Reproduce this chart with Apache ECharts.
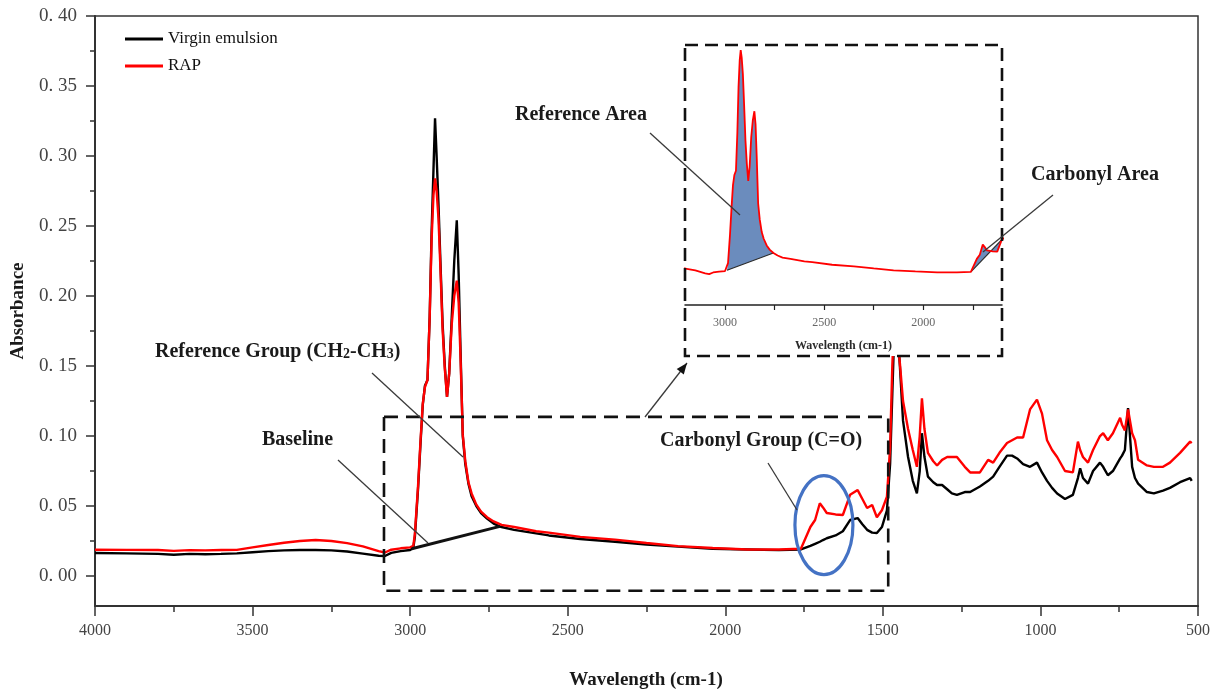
<!DOCTYPE html>
<html>
<head>
<meta charset="utf-8">
<title>FTIR spectra – Virgin emulsion vs RAP</title>
<script src="https://cdn.jsdelivr.net/npm/echarts@6/dist/echarts.min.js"></script>
<style>
  html, body { margin: 0; padding: 0; background: #ffffff; }
  #chart { width: 1224px; height: 694px; }
</style>
</head>
<body>
<div id="chart"></div>
<script>
// Wavenumber grid (cm-1) shared by both spectra
const wavenumber = [
  4000, 3900, 3800, 3750, 3700, 3650, 3600, 3550, 3500, 3450, 3400, 3350, 3300, 3250, 3200, 3150, 3100, 3080, 3060, 3030, 3000,
  2990, 2985, 2975, 2967, 2960, 2953, 2945, 2938, 2932, 2926, 2921, 2916, 2910, 2904, 2897, 2890, 2883, 2876, 2868, 2860, 2852,
  2846, 2840, 2833, 2825, 2815, 2805, 2790, 2775, 2756, 2735, 2710, 2670, 2600, 2560, 2460, 2350, 2250, 2150, 2040, 1930, 1830,
  1760, 1730, 1715, 1700, 1690, 1678, 1650, 1627, 1604, 1580, 1565, 1550, 1534, 1519, 1503, 1487, 1477, 1470, 1463, 1456, 1446,
  1436, 1420, 1405, 1392, 1383, 1376, 1368, 1357, 1340, 1328, 1312, 1296, 1281, 1265, 1240, 1223, 1192, 1166, 1150, 1130, 1106,
  1090, 1074, 1055, 1033, 1011, 995, 979, 963, 947, 922, 897, 881, 874, 865, 849, 833, 811, 801, 786, 770, 747, 741, 732, 722,
  709, 700, 690, 662, 640, 611, 589, 557, 525, 520
];

// Absorbance of the virgin emulsion
const virginEmulsion = [
  0.0165, 0.0162, 0.0158, 0.0152, 0.0158, 0.0156, 0.0158, 0.0162, 0.0170, 0.0178, 0.0183, 0.0186, 0.0186, 0.0183, 0.0175, 0.0160, 0.0145, 0.0143, 0.0165, 0.0178, 0.0186,
  0.0200, 0.0280, 0.0620, 0.0950, 0.1220, 0.1360, 0.1400, 0.1850, 0.2450, 0.2900, 0.3270, 0.3000, 0.2650, 0.2250, 0.1800, 0.1500, 0.1280, 0.1450, 0.1850, 0.2250, 0.2540,
  0.2150, 0.1600, 0.1000, 0.0800, 0.0660, 0.0570, 0.0500, 0.0450, 0.0410, 0.0375, 0.0350, 0.0330, 0.0305, 0.0290, 0.0265, 0.0245, 0.0225, 0.0210, 0.0195, 0.0190, 0.0185,
  0.0190, 0.0215, 0.0230, 0.0245, 0.0257, 0.0270, 0.0290, 0.0320, 0.0400, 0.0414, 0.0370, 0.0330, 0.0310, 0.0307, 0.0350, 0.0470, 0.0800, 0.1300, 0.1800, 0.1850, 0.1500,
  0.1110, 0.0850, 0.0680, 0.0590, 0.0750, 0.1020, 0.0850, 0.0710, 0.0670, 0.0650, 0.0650, 0.0620, 0.0590, 0.0580, 0.0600, 0.0600, 0.0640, 0.0680, 0.0710, 0.0780, 0.0860,
  0.0860, 0.0840, 0.0800, 0.0780, 0.0810, 0.0740, 0.0680, 0.0630, 0.0590, 0.0550, 0.0580, 0.0700, 0.0770, 0.0700, 0.0660, 0.0750, 0.0810, 0.0780, 0.0720, 0.0750, 0.0840, 0.0860, 0.0900, 0.1200,
  0.0780, 0.0700, 0.0660, 0.0600, 0.0590, 0.0610, 0.0630, 0.0670, 0.0700, 0.0680
];

// Absorbance of the RAP binder
const rap = [
  0.0188, 0.0187, 0.0186, 0.0180, 0.0185, 0.0183, 0.0186, 0.0187, 0.0205, 0.0222, 0.0238, 0.0250, 0.0257, 0.0250, 0.0235, 0.0212, 0.0178, 0.0168, 0.0188, 0.0198, 0.0205,
  0.0215, 0.0300, 0.0640, 0.0970, 0.1230, 0.1350, 0.1400, 0.1850, 0.2400, 0.2720, 0.2840, 0.2750, 0.2550, 0.2200, 0.1760, 0.1480, 0.1280, 0.1450, 0.1800, 0.2000, 0.2110,
  0.1950, 0.1550, 0.1010, 0.0820, 0.0670, 0.0590, 0.0510, 0.0460, 0.0420, 0.0390, 0.0365, 0.0350, 0.0320, 0.0310, 0.0280, 0.0260, 0.0236, 0.0214, 0.0200, 0.0190, 0.0190,
  0.0195, 0.0350, 0.0400, 0.0520, 0.0490, 0.0450, 0.0440, 0.0436, 0.0580, 0.0614, 0.0550, 0.0486, 0.0507, 0.0420, 0.0470, 0.0567, 0.0920, 0.1500, 0.1900, 0.1750, 0.1520,
  0.1250, 0.1050, 0.0900, 0.0780, 0.1000, 0.1270, 0.1050, 0.0880, 0.0820, 0.0790, 0.0830, 0.0850, 0.0850, 0.0850, 0.0780, 0.0740, 0.0740, 0.0830, 0.0810, 0.0880, 0.0950,
  0.0970, 0.0990, 0.0990, 0.1190, 0.1260, 0.1160, 0.0970, 0.0900, 0.0850, 0.0750, 0.0740, 0.0960, 0.0900, 0.0850, 0.0810, 0.0900, 0.1000, 0.1020, 0.0970, 0.1020, 0.1130, 0.1080, 0.1040, 0.1190,
  0.1020, 0.0970, 0.0830, 0.0790, 0.0780, 0.0780, 0.0810, 0.0880, 0.0960, 0.0950
];

// Tangent baseline under the CH2/CH3 band [wavenumber, absorbance]
const baselineChord = [[2995, 0.0195], [2715, 0.0355]];

// Tick values
const yTickValues = [0, 0.05, 0.10, 0.15, 0.20, 0.25, 0.30, 0.35, 0.40];
const yMinorTickValues = [0.025, 0.075, 0.125, 0.175, 0.225, 0.275, 0.325, 0.375];
const insetTickLabels = [3000, 2500, 2000];
const insetTickValues = [3000, 2750, 2500, 2250, 2000, 1750];

// Integration windows shown in the inset [from, to] (cm-1)
const referenceWindow = [2990, 2756];
const carbonylWindow = [1760, 1604];

const SERIF = '"Liberation Serif", "DejaVu Serif", serif';

const pairs = (values) => wavenumber.map((w, i) => [w, values[i]]);
const plainNumber = (v) => String(Math.round(v));

// Filled area between the RAP curve and the chord joining the window ends
function windowArea(win) {
  return function (params, api) {
    const pts = [];
    for (let i = 0; i < wavenumber.length; i++) {
      if (wavenumber[i] <= win[0] && wavenumber[i] >= win[1]) {
        pts.push(api.coord([wavenumber[i], rap[i]]));
      }
    }
    const first = pts[0], last = pts[pts.length - 1];
    return {
      type: 'group',
      children: [
        { type: 'polygon', shape: { points: pts }, style: { fill: '#6b8cbd', stroke: null } },
        { type: 'line', shape: { x1: first[0], y1: first[1], x2: last[0], y2: last[1] },
          style: { stroke: '#2b2b2b', lineWidth: 1.2 } }
      ]
    };
  };
}

const chart = echarts.init(document.getElementById('chart'), null, { renderer: 'canvas' });

const option = {
  animation: false,
  backgroundColor: '#ffffff',
  grid: [
    { left: 95, right: 26, top: 16, bottom: 88, show: true, borderColor: '#333', borderWidth: 1.5, backgroundColor: 'transparent' },
    { left: 685, right: 222, top: 45, bottom: 389, show: false }
  ],
  legend: {
    data: ['Virgin emulsion', 'RAP'],
    orient: 'vertical',
    left: 120,
    top: 25,
    icon: 'rect',
    itemWidth: 38,
    itemHeight: 3,
    itemGap: 9,
    selectedMode: false,
    textStyle: { fontFamily: SERIF, fontSize: 17, color: '#111', lineHeight: 18, padding: [0, 0, 0, 0] }
  },
  xAxis: [
    {
      type: 'value', gridIndex: 0, min: 500, max: 4000, interval: 500, inverse: true,
      axisLine: { show: true, onZero: false, lineStyle: { color: '#333', width: 2 } },
      axisTick: { show: true, inside: false, length: 10, lineStyle: { color: '#333', width: 1.5 } },
      minorTick: { show: true, splitNumber: 2, length: 6, lineStyle: { color: '#333', width: 1.5 } },
      splitLine: { show: false },
      axisLabel: { margin: 17, fontFamily: SERIF, fontSize: 16, color: '#444', formatter: plainNumber }
    },
    {
      type: 'value', gridIndex: 1, min: 1603, max: 3202, inverse: true,
      axisLine: { show: true, onZero: false, lineStyle: { color: '#222', width: 1.5 } },
      axisTick: { show: true, inside: false, length: 5, customValues: insetTickValues, lineStyle: { color: '#222', width: 1.2 } },
      splitLine: { show: false },
      axisLabel: { margin: 12, fontFamily: SERIF, fontSize: 12, color: '#666', customValues: insetTickLabels, formatter: plainNumber },
      name: 'Wavelength (cm-1)',
      nameLocation: 'middle',
      nameGap: 35,
      nameTextStyle: { fontFamily: SERIF, fontSize: 12, fontWeight: 'bold', color: '#2a2a2a' },
      z: 10
    }
  ],
  yAxis: [
    {
      type: 'value', gridIndex: 0, min: -0.0214, max: 0.40, position: 'left',
      axisLine: { show: true, onZero: false, lineStyle: { color: '#333', width: 2 } },
      axisTick: { show: true, inside: false, length: 9, customValues: yTickValues, lineStyle: { color: '#333', width: 1.5 } },
      splitLine: { show: false },
      axisLabel: {
        margin: 18, fontFamily: SERIF, fontSize: 19, color: '#444',
        customValues: yTickValues,
        formatter: (v) => v.toFixed(2).replace('.', '. ')
      }
    },
    {
      type: 'value', gridIndex: 0, min: -0.0214, max: 0.40, position: 'left', offset: 0,
      axisLine: { show: false, onZero: false },
      axisTick: { show: true, inside: false, length: 5, customValues: yMinorTickValues, lineStyle: { color: '#333', width: 1.5 } },
      axisLabel: { show: false },
      splitLine: { show: false }
    },
    {
      type: 'value', gridIndex: 1, min: -0.02, max: 0.29, show: false
    }
  ],
  series: [
    {
      name: 'Virgin emulsion', type: 'line', xAxisIndex: 0, yAxisIndex: 0,
      data: pairs(virginEmulsion), symbol: 'none', showSymbol: false,
      lineStyle: { color: '#000000', width: 2.4 }, itemStyle: { color: '#000000' }, z: 2
    },
    {
      name: 'RAP', type: 'line', xAxisIndex: 0, yAxisIndex: 0,
      data: pairs(rap), symbol: 'none', showSymbol: false,
      lineStyle: { color: '#ff0000', width: 2.4 }, itemStyle: { color: '#ff0000' }, z: 3
    },
    {
      name: 'Baseline', type: 'line', xAxisIndex: 0, yAxisIndex: 0,
      data: baselineChord, symbol: 'none', showSymbol: false,
      lineStyle: { color: '#111111', width: 3 }, z: 4
    },
    {
      name: 'Reference area', type: 'custom', xAxisIndex: 1, yAxisIndex: 2,
      renderItem: windowArea(referenceWindow), data: [[2900, 0.1]], z: 9, silent: true
    },
    {
      name: 'Carbonyl area', type: 'custom', xAxisIndex: 1, yAxisIndex: 2,
      renderItem: windowArea(carbonylWindow), data: [[1700, 0.03]], z: 9, silent: true
    },
    {
      name: 'RAP (inset)', type: 'line', xAxisIndex: 1, yAxisIndex: 2,
      data: pairs(rap), symbol: 'none', showSymbol: false, clip: true,
      lineStyle: { color: '#ff0000', width: 1.8 }, itemStyle: { color: '#ff0000' }, z: 10
    }
  ]
};

chart.setOption(option);

// ---------- annotations ----------
const zoomBox = { from: 3083, to: 1483, top: 0.1137, bottom: -0.0105 };
const carbonylRing = { center: [1687, 0.0364], rx: 29, ry: 49.5 };
const insetFrame = { x: 685, y: 45, width: 317, height: 311 };

const toPx = (w, v) => chart.convertToPixel({ gridIndex: 0 }, [w, v]);

function arrowHead(x1, y1, x2, y2, len, wid) {
  const dx = x2 - x1, dy = y2 - y1, L = Math.hypot(dx, dy);
  const ux = dx / L, uy = dy / L, nx = -uy, ny = ux;
  const bx = x2 - ux * len, by = y2 - uy * len;
  return [[x2, y2], [bx + nx * wid / 2, by + ny * wid / 2], [bx - nx * wid / 2, by - ny * wid / 2]];
}

function pointer(x1, y1, x2, y2) {
  return { type: 'line', shape: { x1, y1, x2, y2 }, style: { stroke: '#3a3a3a', lineWidth: 1.3 }, z: 15, silent: true };
}

function label(text, x, y, extra) {
  return Object.assign({
    type: 'text', x, y, z: 16, silent: true,
    style: {
      text, fontFamily: SERIF, fontSize: 20, fontWeight: 'bold', fill: '#1a1a1a',
      textAlign: 'left', textVerticalAlign: 'middle'
    }
  }, extra || {});
}

const tl = toPx(zoomBox.from, zoomBox.top);
const br = toPx(zoomBox.to, zoomBox.bottom);
const ring = toPx(carbonylRing.center[0], carbonylRing.center[1]);

const arrowStart = [645, 417], arrowEnd = [687, 363];

chart.setOption({
  graphic: [
    // inset panel background and frame
    { type: 'rect', shape: insetFrame, style: { fill: '#ffffff' }, z: 5, silent: true },
    { type: 'rect', shape: insetFrame, style: { fill: null, stroke: '#111', lineWidth: 2.6, lineDash: [13, 7] }, z: 20, silent: true },
    // zoom window on the main spectrum
    { type: 'rect', shape: { x: tl[0], y: tl[1], width: br[0] - tl[0], height: br[1] - tl[1] },
      style: { fill: null, stroke: '#111', lineWidth: 2.6, lineDash: [14, 8] }, z: 14, silent: true },
    // carbonyl ring
    { type: 'ellipse', shape: { cx: ring[0], cy: ring[1], rx: carbonylRing.rx, ry: carbonylRing.ry },
      style: { fill: null, stroke: '#4472c4', lineWidth: 3.2 }, z: 15, silent: true },
    // arrow from zoom window to inset
    { type: 'line', shape: { x1: arrowStart[0], y1: arrowStart[1], x2: arrowEnd[0], y2: arrowEnd[1] },
      style: { stroke: '#3a3a3a', lineWidth: 1.3 }, z: 15, silent: true },
    { type: 'polygon', shape: { points: arrowHead(arrowStart[0], arrowStart[1], arrowEnd[0], arrowEnd[1], 11, 9) },
      style: { fill: '#111' }, z: 21, silent: true },
    // leader lines
    pointer(372, 373, 463, 457),
    pointer(338, 460, 428, 543),
    pointer(768, 463, 797, 510),
    Object.assign(pointer(650, 133, 740, 215), { z: 22 }),
    Object.assign(pointer(1053, 195, 983, 252), { z: 22 }),
    // texts
    {
      type: 'text', x: 155, y: 352, z: 16, silent: true,
      style: {
        text: '{t|Reference Group (CH}{s|2}{t|-CH}{s|3}{t|)}',
        textAlign: 'left', textVerticalAlign: 'middle',
        rich: {
          t: { fontFamily: SERIF, fontSize: 20, fontWeight: 'bold', fill: '#1a1a1a', verticalAlign: 'bottom' },
          s: { fontFamily: SERIF, fontSize: 14, fontWeight: 'bold', fill: '#1a1a1a', verticalAlign: 'bottom', padding: [0, 0, 1, 0] }
        }
      }
    },
    label('Baseline', 262, 440),
    label('Carbonyl Group (C=O)', 660, 441),
    Object.assign(label('Reference Area', 515, 115), { z: 23 }),
    Object.assign(label('Carbonyl Area', 1031, 175), { z: 23 }),
    // axis titles
    {
      type: 'text', x: 18, y: 311, rotation: Math.PI / 2, z: 16, silent: true,
      style: { text: 'Absorbance', fontFamily: SERIF, fontSize: 19, fontWeight: 'bold', fill: '#1a1a1a', textAlign: 'center', textVerticalAlign: 'middle' }
    },
    {
      type: 'text', x: 646, y: 680, z: 16, silent: true,
      style: { text: 'Wavelength (cm-1)', fontFamily: SERIF, fontSize: 19, fontWeight: 'bold', fill: '#1a1a1a', textAlign: 'center', textVerticalAlign: 'middle' }
    }
  ]
});
</script>
</body>
</html>
